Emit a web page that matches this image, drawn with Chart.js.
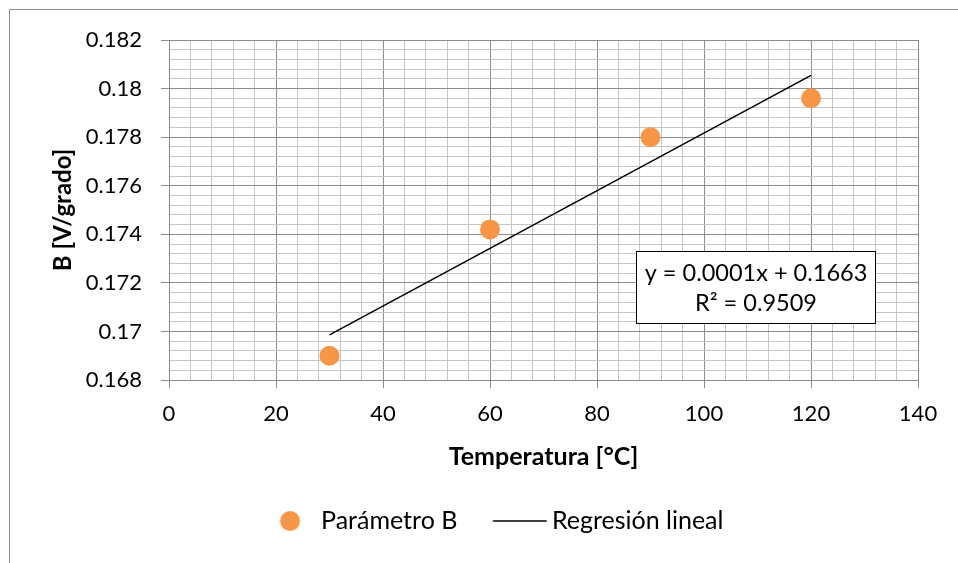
<!DOCTYPE html>
<html>
<head>
<meta charset="utf-8">
<script src="https://cdn.jsdelivr.net/npm/chart.js@4"></script>
<style>
html,body{margin:0;padding:0;background:#fff;}
canvas{display:block;}
</style>
</head>
<body>
<canvas id="c" width="958" height="563"></canvas>
<script>
// ---- data ----
const temperatures = [30, 60, 90, 120];
const paramB = [0.169, 0.1742, 0.178, 0.1796];
const regressionX = [30, 120];
const regressionY = [0.16986, 0.18054];
const xTickLabels = ['0', '20', '40', '60', '80', '100', '120', '140'];
const yTickLabels = ['0.168', '0.17', '0.172', '0.174', '0.176', '0.178', '0.18', '0.182'];
const seriesNames = ['Parámetro B', 'Regresión lineal'];
const equationLines = ['y = 0.0001x + 0.1663', 'R² = 0.9509'];
const xTitle = 'Temperatura [°C]';
const yTitle = 'B [V/grado]';

// ---- styles ----
const FONT = 'Lato, "Open Sans", sans-serif';
const MAJOR = '#8c8c8c';
const MINOR = '#c6c6c6';
const ORANGE = '#F79646';

function isMajorX(v) { return Math.abs(v / 20 - Math.round(v / 20)) < 1e-6; }
function isMajorY(v) {
  const k = (v - 0.168) / 0.002;
  return Math.abs(k - Math.round(k)) < 1e-4;
}

// legend images
function circleImg() {
  const c = document.createElement('canvas');
  c.width = 68; c.height = 24;
  const g = c.getContext('2d');
  g.fillStyle = ORANGE;
  g.beginPath(); g.arc(41.5, 12, 10, 0, Math.PI * 2); g.fill();
  return c;
}
function lineImg() {
  const c = document.createElement('canvas');
  c.width = 68; c.height = 24;
  const g = c.getContext('2d');
  g.strokeStyle = '#000'; g.lineWidth = 1.5;
  g.beginPath(); g.moveTo(13.5, 12); g.lineTo(67.5, 12); g.stroke();
  return c;
}
const legendImgs = [circleImg(), lineImg()];

const frame = {
  id: 'frame',
  beforeDraw(chart) {
    const g = chart.ctx;
    g.save();
    g.strokeStyle = '#8c8c8c';
    g.lineWidth = 1;
    g.beginPath();
    g.moveTo(9.5, 563); g.lineTo(9.5, 9.5); g.lineTo(958, 9.5);
    g.stroke();
    g.restore();
  },
  afterDraw(chart) {
    const g = chart.ctx;
    g.save();
    const bx = 636.5, by = 251.5, bw = 239, bh = 72;
    g.fillStyle = '#fff';
    g.fillRect(bx, by, bw, bh);
    g.strokeStyle = '#000';
    g.lineWidth = 1;
    g.strokeRect(bx, by, bw, bh);
    g.fillStyle = '#000';
    g.font = '23.5px ' + FONT;
    g.textAlign = 'center';
    g.textBaseline = 'middle';
    g.fillText(equationLines[0], bx + bw / 2, by + 22);
    g.fillText(equationLines[1], bx + bw / 2, by + 52);
    g.restore();
  }
};

new Chart(document.getElementById('c'), {
  type: 'scatter',
  data: {
    datasets: [
      {
        label: seriesNames[0],
        data: temperatures.map((t, i) => ({x: t, y: paramB[i]})),
        pointRadius: 10,
        pointHoverRadius: 10,
        pointBackgroundColor: ORANGE,
        pointBorderWidth: 0,
        backgroundColor: ORANGE,
        borderColor: ORANGE
      },
      {
        type: 'line',
        label: seriesNames[1],
        data: regressionX.map((t, i) => ({x: t, y: regressionY[i]})),
        borderColor: '#000',
        borderWidth: 1.5,
        pointRadius: 0,
        fill: false,
        tension: 0
      }
    ]
  },
  options: {
    responsive: false,
    animation: false,
    layout: {padding: {left: 62, right: 40, top: 40, bottom: 19.5}},
    plugins: {
      tooltip: {enabled: false},
      legend: {
        position: 'bottom',
        labels: {
          usePointStyle: true,
          pointStyleWidth: 52,
          padding: 30,
          color: '#000',
          font: {family: FONT, size: 25},
          generateLabels(chart) {
            const items = Chart.defaults.plugins.legend.labels.generateLabels(chart);
            items.forEach((it, i) => { it.pointStyle = legendImgs[i]; });
            return items;
          }
        }
      }
    },
    scales: {
      x: {
        type: 'linear',
        min: 0, max: 140,
        afterFit(s) { s.height = 98.5; },
        ticks: {
          stepSize: 4,
          autoSkip: false,
          maxRotation: 0,
          padding: 13,
          color: '#000',
          font: {family: FONT, size: 22},
          callback(v) { return isMajorX(v) ? xTickLabels[Math.round(v / 20)] : ''; }
        },
        grid: {
          color: c => isMajorX(c.tick.value) ? MAJOR : MINOR,
          tickColor: c => isMajorX(c.tick.value) ? MAJOR : 'rgba(0,0,0,0)',
          tickLength: 8,
          lineWidth: 1
        },
        border: {color: MAJOR, width: 1},
        title: {
          display: true,
          text: xTitle,
          color: '#000',
          font: {family: FONT, size: 25, weight: 'bold'},
          padding: {top: 0, bottom: 6.5}
        }
      },
      y: {
        type: 'linear',
        min: 0.168, max: 0.182,
        afterFit(s) { s.width = 107; },
        ticks: {
          stepSize: 0.0004,
          autoSkip: false,
          padding: 19,
          color: '#000',
          font: {family: FONT, size: 22},
          callback(v) { return isMajorY(v) ? yTickLabels[Math.round((v - 0.168) / 0.002)] : ''; }
        },
        grid: {
          color: c => isMajorY(c.tick.value) ? MAJOR : MINOR,
          tickColor: c => isMajorY(c.tick.value) ? MAJOR : 'rgba(0,0,0,0)',
          tickLength: 8,
          lineWidth: 1
        },
        border: {color: MAJOR, width: 1},
        title: {
          display: true,
          text: yTitle,
          color: '#000',
          font: {family: FONT, size: 24, weight: 'bold'},
          padding: {top: -13.5, bottom: 0}
        }
      }
    }
  },
  plugins: [frame]
});
</script>
</body>
</html>
